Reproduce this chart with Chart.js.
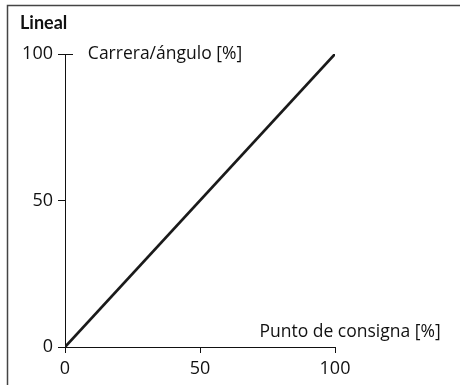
<!DOCTYPE html>
<html>
<head>
    <meta charset="utf-8">
    <title>Lineal</title>
    <script src="https://cdn.jsdelivr.net/npm/chart.js"></script>
    <style>
        html, body { margin: 0; padding: 0; background: #fff; }
        #wrap { width: 460px; height: 385px; }
    </style>
</head>
<body>
    <div id="wrap"><canvas id="lineChart" width="460" height="385"></canvas></div>

    <script>
        // Characteristic data
        const setpoint = [0, 100];      // Punto de consigna [%]
        const travel = [0, 100];        // Carrera/ángulo [%]
        const tickValues = [0, 50, 100];

        const chartTitle = 'Lineal';
        const yLabel = 'Carrera/ángulo [%]';
        const xLabel = 'Punto de consigna [%]';

        const fontFamily = '"Open Sans", "DejaVu Sans", sans-serif';

        // Frame, title, axis captions and the T at the top of the y axis
        const decorations = {
            id: 'decorations',
            afterDraw(chart) {
                const ctx = chart.ctx;
                const xs = chart.scales.x, ys = chart.scales.y;
                ctx.save();
                // frame (top + left)
                ctx.strokeStyle = '#444';
                ctx.lineWidth = 1.5;
                ctx.beginPath();
                ctx.moveTo(460, 5.5);
                ctx.lineTo(7.5, 5.5);
                ctx.lineTo(7.5, 385);
                ctx.stroke();

                // top T cap on the y axis
                const yTop = ys.getPixelForValue(100);
                const x0 = xs.getPixelForValue(0);
                ctx.strokeStyle = '#111';
                ctx.lineWidth = 1;
                ctx.beginPath();
                ctx.moveTo(x0, Math.round(yTop) + 0.5);
                ctx.lineTo(x0 + 8, Math.round(yTop) + 0.5);
                ctx.stroke();

                ctx.fillStyle = '#111';
                ctx.font = 'bold 18px Lato, sans-serif';
                ctx.textBaseline = 'alphabetic';
                ctx.textAlign = 'left';
                ctx.fillText(chartTitle, 20, 29);

                ctx.font = '17.5px ' + fontFamily;
                ctx.textBaseline = 'middle';
                ctx.textAlign = 'center';
                ctx.fillText(yLabel, 165, yTop);
                ctx.fillText(xLabel, 350, ys.getPixelForValue(0) - 15);
                ctx.restore();
            }
        };

        const ctx = document.getElementById('lineChart').getContext('2d');
        new Chart(ctx, {
            type: 'line',
            data: {
                datasets: [{
                    data: setpoint.map((v, i) => ({ x: v, y: travel[i] })),
                    borderColor: '#1a1a1a',
                    borderWidth: 2.7,
                    pointRadius: 0,
                    fill: false,
                    tension: 0
                }]
            },
            options: {
                responsive: false,
                animation: false,
                events: [],
                layout: { padding: { left: 0, top: 54, right: 125, bottom: 0 } },
                plugins: {
                    legend: { display: false },
                    tooltip: { enabled: false }
                },
                scales: {
                    x: {
                        type: 'linear',
                        min: 0,
                        max: 100,
                        afterFit: s => { s.height = 38; },
                        afterBuildTicks: s => { s.ticks = tickValues.map(v => ({ value: v })); },
                        grid: { drawOnChartArea: false, color: '#111', tickLength: 6, lineWidth: 1 },
                        border: { color: '#111', width: 1 },
                        ticks: { color: '#111', padding: 5, maxRotation: 0, font: { family: fontFamily, size: 18 } }
                    },
                    y: {
                        type: 'linear',
                        min: 0,
                        max: 100,
                        afterFit: s => { s.width = 65; },
                        afterBuildTicks: s => { s.ticks = tickValues.map(v => ({ value: v })); },
                        grid: { drawOnChartArea: false, color: '#111', tickLength: 7, lineWidth: 1 },
                        border: { color: '#111', width: 1 },
                        ticks: { color: '#111', padding: 5, font: { family: fontFamily, size: 18 } }
                    }
                }
            },
            plugins: [decorations]
        });
    </script>
</body>
</html>
